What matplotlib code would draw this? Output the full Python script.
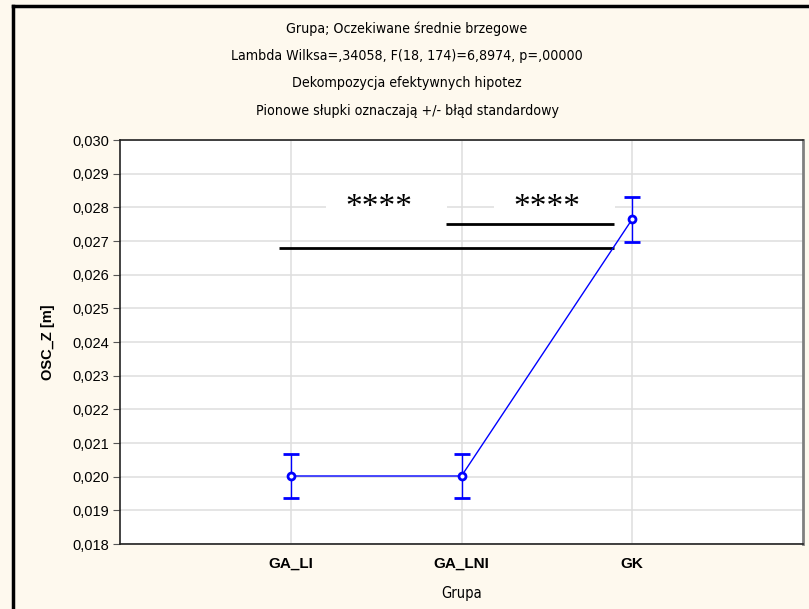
import numpy as np
import matplotlib
matplotlib.use("Agg")
import matplotlib.pyplot as plt
from matplotlib.lines import Line2D
from matplotlib.patches import Rectangle

# data
groups = ["GA_LI", "GA_LNI", "GK"]
means = [0.02002, 0.02002, 0.02765]
se = [0.00064, 0.00064, 0.00067]

# significance bars: x start, x end, y
sig_x0 = [0.91, -0.07]
sig_x1 = [1.895, 1.895]
sig_y = [0.02750, 0.02680]
sig_labels = ["****", "****"]
sig_label_x = [0.515, 1.50]
sig_label_y = [0.02800, 0.02800]

yticks = np.arange(0.018, 0.0305, 0.001)
ytick_labels = ["0,%03d" % round(v * 1000) for v in yticks]

title_lines = [
    "Grupa; Oczekiwane średnie brzegowe",
    "Lambda Wilksa=,34058, F(18, 174)=6,8974, p=,00000",
    "Dekompozycja efektywnych hipotez",
    "Pionowe słupki oznaczają +/- błąd standardowy",
]

bg = "#fef9ee"
blue = "#0000ff"
sans = ["Liberation Sans", "DejaVu Sans"]

fig = plt.figure(figsize=(8.09, 6.09), dpi=100, facecolor=bg)
ax = fig.add_axes([120 / 809, 1 - 544 / 609, 683 / 809, 404 / 609])
ax.set_facecolor("white")

x = np.arange(len(groups))
ax.errorbar(x, means, yerr=se, color=blue, lw=1, elinewidth=1,
            capsize=6, capthick=1, marker="o", ms=5, mfc="white",
            mec=blue, mew=2, zorder=5)

for x0, x1, y in zip(sig_x0, sig_x1, sig_y):
    ax.plot([x0, x1], [y, y], color="black", lw=2, solid_capstyle="butt", zorder=4)

for lab, lx, ly in zip(sig_labels, sig_label_x, sig_label_y):
    # white label background that breaks the gridline
    ax.add_patch(Rectangle((lx - 0.31, ly - 0.0001), 0.71, 0.00025,
                           fc="white", ec="none", zorder=1))
    ax.text(lx, ly, lab, ha="center", va="center", fontsize=24,
            family=["Liberation Serif", "DejaVu Serif"], zorder=3)

ax.set_xlim(-1, 3)
ax.set_ylim(0.018, 0.030)
ax.set_xticks(x)
ax.set_xticklabels(groups, fontweight="bold", fontsize=11, family=sans)
ax.set_yticks(yticks)
ax.set_yticklabels(ytick_labels, fontsize=10.5, family=sans)
ax.tick_params(axis="x", length=0, pad=9)
ax.tick_params(axis="y", length=5, width=0.8, pad=3, color="#555555")
ax.grid(True, color="#dedede", lw=1.1)
ax.set_axisbelow(True)

for side in ["left", "top", "bottom"]:
    ax.spines[side].set_color("#222222")
    ax.spines[side].set_linewidth(1.2)
ax.spines["right"].set_color("#808080")
ax.spines["right"].set_linewidth(2)

ax.set_xlabel("Grupa", fontsize=10.5, family="DejaVu Sans", fontstretch="condensed", labelpad=11)
ax.set_ylabel("OSC_Z [m]", fontsize=10.5, fontweight="bold", family=sans, labelpad=12)

title_y = [29, 56, 83, 111]
for line, ty in zip(title_lines, title_y):
    fig.text(407 / 809, 1 - ty / 609, line, ha="center", va="center",
             fontsize=10.2, family="DejaVu Sans", fontstretch="condensed")

# outer frame of the original window (left and top edges visible)
fig.add_artist(Line2D([12.5 / 809, 12.5 / 809], [0, 1 - 6 / 609], color="black", lw=2.5))
fig.add_artist(Line2D([12.5 / 809, 1], [1 - 6 / 609, 1 - 6 / 609], color="black", lw=2.5))

fig.savefig("out.png", dpi=100, facecolor=bg)
